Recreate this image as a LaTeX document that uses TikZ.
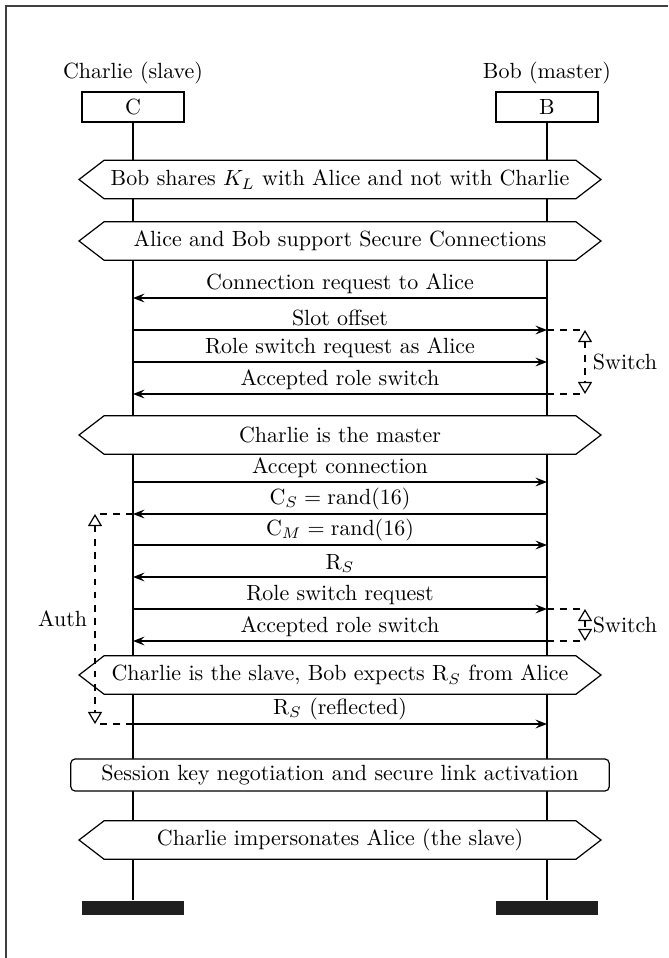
\documentclass[tikz,border=0pt]{standalone}
\usetikzlibrary{arrows.meta,shapes.symbols}

\tikzset{
  inst/.style={draw, minimum width=46.4pt, minimum height=13.6pt, inner sep=0pt},
  instfoot/.style={fill=black!88, minimum width=46.4pt, minimum height=6.4pt, inner sep=0pt},
  cond/.style={draw, fill=white, signal, signal to=west and east, signal pointer angle=75,
    minimum width=237.5pt, minimum height=17.5pt, inner sep=1pt},
  action/.style={draw, fill=white, rounded corners=2pt, minimum width=245pt, minimum height=14.6pt, inner sep=1pt},
  msg/.style={-{Stealth[length=5.2pt,width=4pt,inset=2pt]}},
  lbl/.style={above, inner sep=1.7pt},
  measure/.style={dashed, {Triangle[open,length=5.5pt,width=6.4pt]}-{Triangle[open,length=5.5pt,width=6.4pt]}},
}

\begin{document}
\begin{tikzpicture}[x=0.455pt, y=-0.455pt, line width=0.55pt]
	\useasboundingbox (0,0) rectangle (668,958);
	\draw[line width=1.1pt, black!75] (6,958) -- (6,6) -- (668,6);

	% instances
	\node[inst, label={above:Charlie (slave)}] (C) at (133,107) {C};
	\node[inst, label={above:Bob (master)}] (B) at (547,107) {B};
	\node[instfoot] (Cfoot) at (133,908) {};
	\node[instfoot] (Bfoot) at (547,908) {};
	\draw (C) -- (Cfoot);
	\draw (B) -- (Bfoot);

	% message rows
	\foreach \n/\y in {m1/298, m2/330, m3/362, m4/394, m5/482, m6/514, m7/545, m8/577, m9/609, m10/641, m11/724}
		\coordinate (\n) at (340,\y);

	% conditions
	\node[cond] (cond1) at (340,179.5) {Bob shares $K_L$ with Alice and not with Charlie};
	\node[cond] (cond2) at (340,241) {Alice and Bob support Secure Connections};
	\node[cond] (cond3) at (340,435) {Charlie is the master};
	\node[cond] (cond4) at (340,675) {Charlie is the slave, Bob expects $\mathrm{R}_S$ from Alice};
	\node[action] (act) at (340,775) {Session key negotiation and secure link activation};
	\node[cond] (cond5) at (340,840) {Charlie impersonates Alice (the slave)};

	% messages
	\draw[msg] (B |- m1) -- node[lbl] {Connection request to Alice} (C |- m1);
	\draw[msg] (C |- m2) -- node[lbl] {Slot offset} (B |- m2);
	\draw[msg] (C |- m3) -- node[lbl] {Role switch request as Alice} (B |- m3);
	\draw[msg] (B |- m4) -- node[lbl] {Accepted role switch} (C |- m4);
	\draw[msg] (C |- m5) -- node[lbl] {Accept connection} (B |- m5);
	\draw[msg] (B |- m6) -- node[lbl] {$\mathrm{C}_S = \mathrm{rand}(16)$} (C |- m6);
	\draw[msg] (C |- m7) -- node[lbl] {$\mathrm{C}_M = \mathrm{rand}(16)$} (B |- m7);
	\draw[msg] (B |- m8) -- node[lbl] {$\mathrm{R}_S$} (C |- m8);
	\draw[msg] (C |- m9) -- node[lbl] {Role switch request} (B |- m9);
	\draw[msg] (B |- m10) -- node[lbl] {Accepted role switch} (C |- m10);
	\draw[msg] (C |- m11) -- node[lbl] {$\mathrm{R}_S$ (reflected)} (B |- m11);

	% measures
	\coordinate (sw1top) at (585,330);
	\coordinate (sw1bot) at (585,394);
	\draw[dashed] (B |- sw1top) -- (sw1top);
	\draw[dashed] (B |- sw1bot) -- (sw1bot);
	\draw[measure] (sw1top) -- node[right] {Switch} (sw1bot);

	\coordinate (sw2top) at (585,609);
	\coordinate (sw2bot) at (585,641);
	\draw[dashed] (B |- sw2top) -- (sw2top);
	\draw[dashed] (B |- sw2bot) -- (sw2bot);
	\draw[measure] (sw2top) -- node[right] {Switch} (sw2bot);

	\coordinate (authtop) at (95,514);
	\coordinate (authbot) at (95,724);
	\draw[dashed] (C |- authtop) -- (authtop);
	\draw[dashed] (C |- authbot) -- (authbot);
	\draw[measure] (authtop) -- node[left] {Auth} (authbot);
\end{tikzpicture}
\end{document}
